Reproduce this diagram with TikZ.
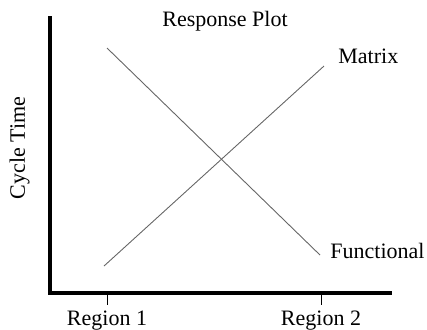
\documentclass[tikz,border=0pt]{standalone}
\usepackage{fontspec}
\setmainfont{Liberation Serif}
\usepackage{tikz}
\usetikzlibrary{positioning}
\tikzstyle{axis}     = [draw,line width=2pt]
\tikzstyle{response} = [draw,black!60,line width=0.45pt]
\tikzstyle{tick}     = [draw,line width=0.5pt]
\tikzstyle{lbl}      = [font=\fontsize{11}{13}\selectfont,inner sep=0pt]

\begin{document}
\begin{tikzpicture}[x=0.5pt,y=-0.5pt]
\useasboundingbox (0,0) rectangle (427,329);

\coordinate (top)    at (50,16);
\coordinate (origin) at (50,293);
\coordinate (right)  at (392,293);
\coordinate (T1)     at (107,293);
\coordinate (T1e)    at (107,305);
\coordinate (T2)     at (321,293);
\coordinate (T2e)    at (321,305);
\coordinate (F0)     at (107,48);
\coordinate (F1)     at (320,255);
\coordinate (M0)     at (104,266);
\coordinate (M1)     at (324,66);

\node[lbl,anchor=base]              (title)  at (225,26)  {Response Plot};
\node[lbl,anchor=base,rotate=90]    (ylabel) at (25,148)  {Cycle Time};
\node[lbl,anchor=base west]         (matrix) at (338,63)  {Matrix};
\node[lbl,anchor=base west]         (funct)  at (330,258) {Functional};
\node[lbl,anchor=base]              (reg1)   at (107,325) {Region 1};
\node[lbl,anchor=base]              (reg2)   at (321,325) {Region 2};

\draw[axis] (top) -- (origin) -- (right);
\draw[tick] (T1) -- (T1e);
\draw[tick] (T2) -- (T2e);
\draw[response] (F0) -- (F1);
\draw[response] (M0) -- (M1);

\end{tikzpicture}
\end{document}
